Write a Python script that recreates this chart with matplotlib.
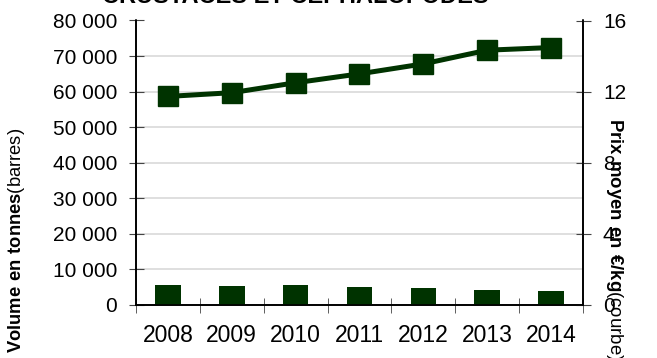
import matplotlib
matplotlib.use("Agg")
import matplotlib.pyplot as plt
from matplotlib.ticker import FixedLocator, FuncFormatter

plt.rcParams.update({
    "font.family": "Liberation Sans",
    "mathtext.fontset": "custom",
    "mathtext.rm": "Liberation Sans",
    "mathtext.bf": "Liberation Sans:bold",
})

# data
years = ["2008", "2009", "2010", "2011", "2012", "2013", "2014"]
volume_t = [5600, 5350, 5600, 5050, 4700, 4200, 3850]          # bars, left axis
price_eur_kg = [11.73, 11.94, 12.5, 13.0, 13.56, 14.33, 14.48]  # line, right axis

GREEN = "#003300"
GRID = "#d9d9d9"
TICK = "#444444"

fig = plt.figure(figsize=(6.57, 3.58), dpi=100)
ax = fig.add_axes([136 / 657, 1 - 305 / 358, (583 - 136) / 657, (305 - 20.5) / 358])
ax2 = ax.twinx()

x = list(range(len(years)))
ax.bar(x, volume_t, width=0.4, color=GREEN, zorder=3)
ax.set_ylim(0, 80000)
ax.set_xlim(-0.5, len(years) - 0.5)
ax.set_yticks(range(0, 80001, 10000))
ax.yaxis.set_major_formatter(FuncFormatter(lambda v, _: f"{int(v):,}".replace(",", " ")))
ax.grid(axis="y", color=GRID, linewidth=1.2, zorder=0)
ax.set_axisbelow(True)

# category labels centred, tick marks on the boundaries
ax.set_xticks(x)
ax.set_xticklabels(years, fontsize=16.5)
ax.xaxis.set_minor_locator(FixedLocator([i - 0.5 for i in range(len(years) + 1)]))
ax.tick_params(axis="x", which="major", length=0, pad=14)
ax.tick_params(axis="x", which="minor", direction="inout", length=10.8, color=TICK)
ax.tick_params(axis="y", direction="inout", length=10.8, labelsize=15, pad=8.3, color=TICK)

ax2.plot(x, price_eur_kg, color=GREEN, linewidth=3.6, marker="s", markersize=14,
         markeredgecolor=GREEN, zorder=4)
ax2.set_ylim(0, 16)
ax2.set_yticks([0, 4, 8, 12, 16])
ax2.tick_params(axis="y", direction="inout", length=10.8, labelsize=15, pad=9, color=TICK)

for a in (ax, ax2):
    a.spines["top"].set_visible(False)
    for s in ("left", "right", "bottom"):
        a.spines[s].set_color("black")
        a.spines[s].set_linewidth(1.2)

fig.text(295 / 657, 1 - 3 / 358, "CRUSTACES ET CEPHALOPODES", ha="center", va="baseline",
         fontsize=17, fontweight="bold")
fig.text(17 / 657, 1 - 128 / 358, r"$\mathbf{Volume\ en\ tonnes}$(barres)", rotation=90,
         ha="center", va="top", fontsize=13.2)
fig.text(614 / 657, 1 - 118 / 358, r"$\mathbf{Prix\ moyen\ en\ €/kg}$(courbe)", rotation=270,
         ha="center", va="top", fontsize=13.4)

fig.savefig("out.png", dpi=100)
